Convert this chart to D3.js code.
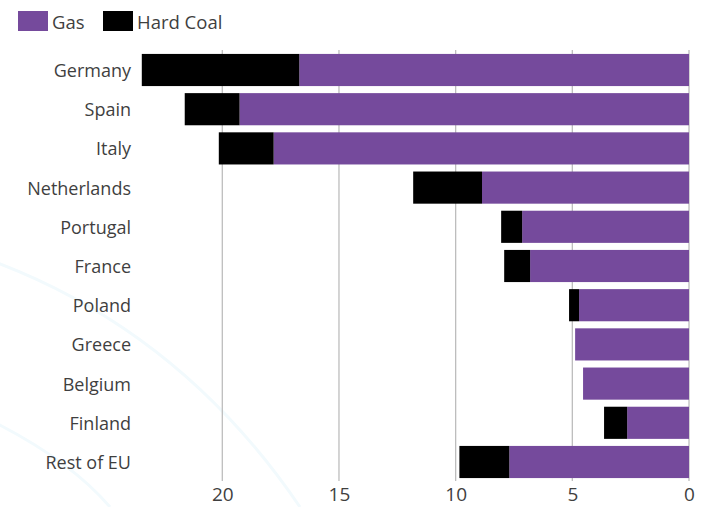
<!DOCTYPE html>
<html>
<head>
<meta charset="utf-8">
<script src="https://cdn.jsdelivr.net/npm/d3@7"></script>
<style>
  html, body { margin: 0; padding: 0; background: #fff; }
  svg { display: block; }
  text { font-family: "Open Sans", "Noto Sans", sans-serif; fill: #3f3f3f; }
</style>
</head>
<body>
<div id="chart"></div>
<script>
const categories = ["Germany", "Spain", "Italy", "Netherlands", "Portugal", "France", "Poland", "Greece", "Belgium", "Finland", "Rest of EU"];
const gasValues = [16.7, 19.26, 17.8, 8.87, 7.15, 6.81, 4.71, 4.88, 4.54, 2.65, 7.7];
const coalValues = [6.75, 2.35, 2.35, 2.95, 0.9, 1.11, 0.43, 0, 0, 0.99, 2.14];
const tickValues = [0, 5, 10, 15, 20];
const seriesNames = ["Gas", "Hard Coal"];
const seriesColors = ["#754a9c", "#000000"];

const W = 707, H = 507;
const svg = d3.select("#chart").append("svg").attr("width", W).attr("height", H);

// faint decorative arcs in the background
const deco = svg.append("g").attr("fill", "none").attr("stroke", "#f2fafd").attr("stroke-width", 3);
deco.append("path").attr("d", "M -10 260 Q 180 330 300 507");
deco.append("path").attr("d", "M -10 420 Q 70 460 110 507");

const x = d3.scaleLinear().domain([0, 20]).range([689, 222.3]);
const y = d3.scaleBand().domain(categories).range([50.4, 481.6]).paddingInner(0.18).paddingOuter(0.09);

// gridlines
svg.append("g").selectAll("line").data(tickValues).join("line")
  .attr("x1", d => x(d)).attr("x2", d => x(d))
  .attr("y1", 50).attr("y2", 481)
  .attr("stroke", "#bdbdbd").attr("stroke-width", 1.3);

const rows = categories.map((c, i) => ({ cat: c, gas: gasValues[i], coal: coalValues[i] }));
const stack = d3.stack().keys(["gas", "coal"])(rows);

svg.append("g").selectAll("g").data(stack).join("g")
  .attr("fill", (d, i) => seriesColors[i])
  .selectAll("rect").data(d => d).join("rect")
  .attr("x", d => x(d[1]))
  .attr("width", d => Math.max(0, x(d[0]) - x(d[1])))
  .attr("y", d => y(d.data.cat))
  .attr("height", y.bandwidth());

// category labels
svg.append("g").selectAll("text").data(categories).join("text")
  .attr("x", 131).attr("y", d => y(d) + y.bandwidth() / 2)
  .attr("text-anchor", "end").attr("dominant-baseline", "central")
  .attr("font-size", 18).text(d => d);

// x axis labels
const axis = d3.axisBottom(x).tickValues(tickValues).tickSize(0).tickPadding(0).tickFormat(d3.format("d"));
const ax = svg.append("g").attr("transform", "translate(0,487)").call(axis);
ax.select(".domain").remove();
ax.selectAll("text").attr("font-size", 19).attr("dy", "0.71em").style("font-family", '"Open Sans", "Noto Sans", sans-serif').attr("fill", "#3f3f3f");

// legend
const legendX = [18, 103];
const lg = svg.append("g").selectAll("g").data(seriesNames).join("g")
  .attr("transform", (d, i) => `translate(${legendX[i]},11)`);
lg.append("rect").attr("width", 30).attr("height", 20).attr("fill", (d, i) => seriesColors[i]);
lg.append("text").attr("x", 34).attr("y", 10).attr("dominant-baseline", "central")
  .attr("font-size", 18.5).text(d => d);
</script>
</body>
</html>
